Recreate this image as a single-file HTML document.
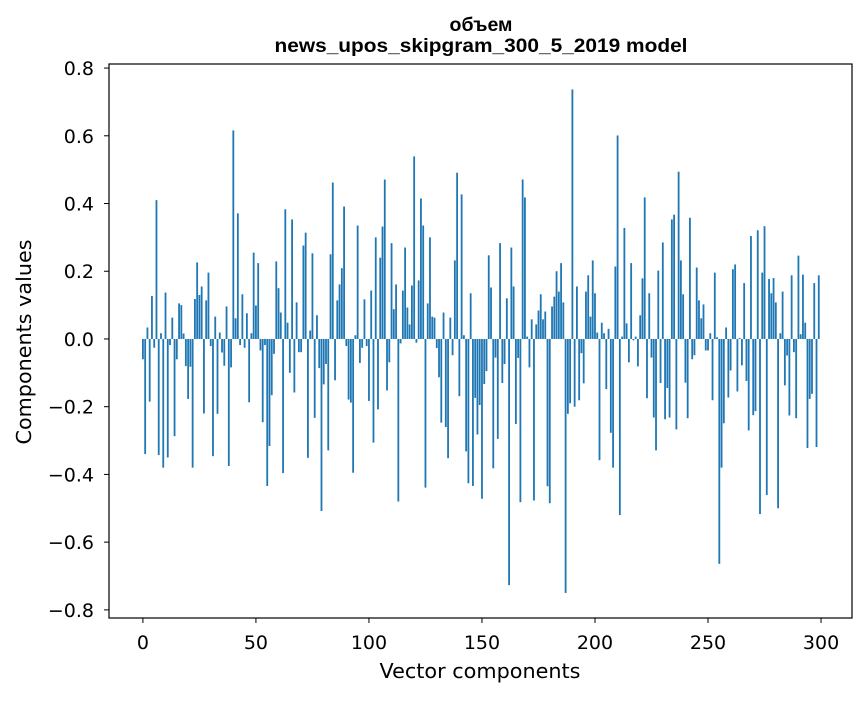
<!DOCTYPE html>
<html><head><meta charset="utf-8"><style>
html,body{margin:0;padding:0;background:#fff;}
svg text{font-family:"DejaVu Sans","Liberation Sans",sans-serif;fill:#000;}
svg text.title{font-family:"Liberation Sans","DejaVu Sans",sans-serif;font-weight:bold;}
</style></head><body>
<svg id="chart" width="867" height="696" xmlns="http://www.w3.org/2000/svg">
<rect x="0" y="0" width="867" height="696" fill="#fff"/>
<text class="title" x="481" y="31" text-anchor="middle" font-size="19.5">объем</text>
<text class="title" x="481" y="52" text-anchor="middle" font-size="19.5" textLength="413" lengthAdjust="spacingAndGlyphs">news_upos_skipgram_300_5_2019 model</text>
<g id="bars"></g>
<g id="xticks"></g>
<g id="yticks"></g>
<rect x="109" y="64" width="743" height="554" fill="none" stroke="#000" stroke-width="1.2"/>
<text x="480" y="678" text-anchor="middle" font-size="20" textLength="201" lengthAdjust="spacingAndGlyphs">Vector components</text>
<text transform="translate(31,342) rotate(-90)" text-anchor="middle" font-size="20" textLength="205" lengthAdjust="spacingAndGlyphs">Components values</text>
</svg>
<script>
const values = [
-0.06,-0.34,0.034,-0.185,0.127,-0.026,0.41,-0.343,0.017,-0.38,
0.137,-0.35,-0.018,0.063,-0.287,-0.06,0.105,0.10,0.016,-0.08,
-0.177,-0.082,-0.38,0.118,0.226,0.13,0.155,-0.22,0.114,0.196,
-0.021,-0.346,0.066,-0.221,0.019,-0.04,-0.079,0.096,-0.375,-0.084,
0.616,0.061,0.371,-0.018,0.132,-0.026,0.076,-0.187,0.017,0.255,
0.099,0.224,-0.034,-0.246,-0.018,-0.434,-0.316,-0.166,-0.044,0.229,
0.15,0.078,-0.396,0.383,0.048,-0.1,0.353,-0.158,0.108,-0.039,
-0.039,0.276,0.314,-0.351,0.025,0.253,-0.233,0.07,-0.086,-0.508,
-0.134,-0.074,-0.329,0.25,0.462,-0.122,0.114,0.161,0.209,0.391,
-0.021,-0.179,-0.188,-0.395,0.011,0.335,-0.071,-0.026,0.117,-0.021,
-0.183,0.143,-0.306,0.3,-0.208,0.24,0.332,0.471,-0.152,-0.069,
0.283,0.088,0.161,-0.48,-0.013,0.143,0.27,0.093,0.043,0.158,
0.539,-0.011,0.173,0.415,0.335,-0.439,0.105,0.3,0.066,0.063,
-0.027,-0.113,-0.247,0.078,-0.26,-0.352,0.063,-0.048,0.232,0.491,
-0.169,0.427,0.011,-0.332,-0.426,0.135,-0.434,-0.174,-0.282,-0.195,
-0.472,-0.133,-0.095,0.247,0.152,-0.382,-0.055,-0.295,0.283,-0.13,
-0.074,0.12,-0.727,0.27,0.155,-0.251,-0.056,-0.482,0.471,0.418,
0.007,-0.084,0.058,-0.477,0.043,0.084,0.132,0.058,0.081,-0.435,
-0.485,0.096,0.125,0.2,0.14,0.224,0.108,-0.75,-0.221,-0.19,
0.737,-0.2,0.155,-0.181,-0.042,-0.131,0.14,0.188,0.066,0.232,
0.135,0.019,-0.358,0.048,0.017,-0.148,0.03,-0.277,-0.38,0.214,
0.601,-0.52,0.007,0.328,0.046,-0.069,0.224,-0.004,0.007,-0.081,
0.07,0.179,0.418,-0.175,0.135,-0.055,-0.232,-0.329,0.202,-0.13,
0.285,-0.237,-0.145,-0.232,0.353,0.367,-0.267,0.494,0.232,0.132,
-0.129,-0.234,0.358,-0.06,-0.048,0.211,0.114,0.061,0.102,-0.034,
-0.034,0.017,-0.181,0.196,0.005,-0.664,-0.38,-0.249,0.034,-0.173,
-0.093,0.206,0.22,-0.155,0.003,-0.078,0.165,-0.124,-0.27,0.304,
-0.225,-0.213,0.321,-0.517,0.196,0.333,-0.461,0.177,0.135,0.18,
0.108,-0.5,0.017,0.14,-0.137,-0.049,-0.226,0.188,-0.039,-0.234,
0.246,0.014,0.19,0.048,-0.322,-0.177,-0.162,0.165,-0.319,0.188
];
const xTickValues = [0,50,100,150,200,250,300];
const yTickValues = [-0.8,-0.6,-0.4,-0.2,0.0,0.2,0.4,0.6,0.8];
const yTickLabels = ["\u22120.8","\u22120.6","\u22120.4","\u22120.2","0.0","0.2","0.4","0.6","0.8"];

const NS="http://www.w3.org/2000/svg";
const X0=109,X1=852,Y0=64,Y1=618;
const xMin=-15.0,xMax=313.7,yMin=-0.824,yMax=0.812;
function xs(v){return X0+(v-xMin)/(xMax-xMin)*(X1-X0);}
function ys(v){return Y1-(v-yMin)/(yMax-yMin)*(Y1-Y0);}
const bars=document.getElementById('bars');
values.forEach((v,i)=>{
  const r=document.createElementNS(NS,'rect');
  const w=xs(0.8)-xs(0);
  r.setAttribute('x',xs(i-0.4));
  r.setAttribute('width',w);
  r.setAttribute('y',Math.min(ys(v),ys(0)));
  r.setAttribute('height',Math.abs(ys(v)-ys(0)));
  r.setAttribute('fill','#1f77b4');
  
  
  bars.appendChild(r);
});
const xt=document.getElementById('xticks');
xTickValues.forEach(v=>{
  const l=document.createElementNS(NS,'line');
  l.setAttribute('x1',xs(v));l.setAttribute('x2',xs(v));
  l.setAttribute('y1',Y1);l.setAttribute('y2',Y1+5);
  l.setAttribute('stroke','#000');
  
  
  xt.appendChild(l);
  const t=document.createElementNS(NS,'text');
  t.setAttribute('x',xs(v));t.setAttribute('y',Y1+31);
  t.setAttribute('text-anchor','middle');t.setAttribute('font-size','19');
  t.textContent=String(v);
  
  
  xt.appendChild(t);
});
const yt=document.getElementById('yticks');
yTickValues.forEach((v,i)=>{
  const l=document.createElementNS(NS,'line');
  l.setAttribute('x1',X0-5);l.setAttribute('x2',X0);
  l.setAttribute('y1',ys(v));l.setAttribute('y2',ys(v));
  l.setAttribute('stroke','#000');
  
  
  yt.appendChild(l);
  const t=document.createElementNS(NS,'text');
  t.setAttribute('x',X0-15);t.setAttribute('y',ys(v)+7);
  t.setAttribute('text-anchor','end');t.setAttribute('font-size','19');
  t.textContent=yTickLabels[i];
  
  
  yt.appendChild(t);
});
</script>
</body></html>
